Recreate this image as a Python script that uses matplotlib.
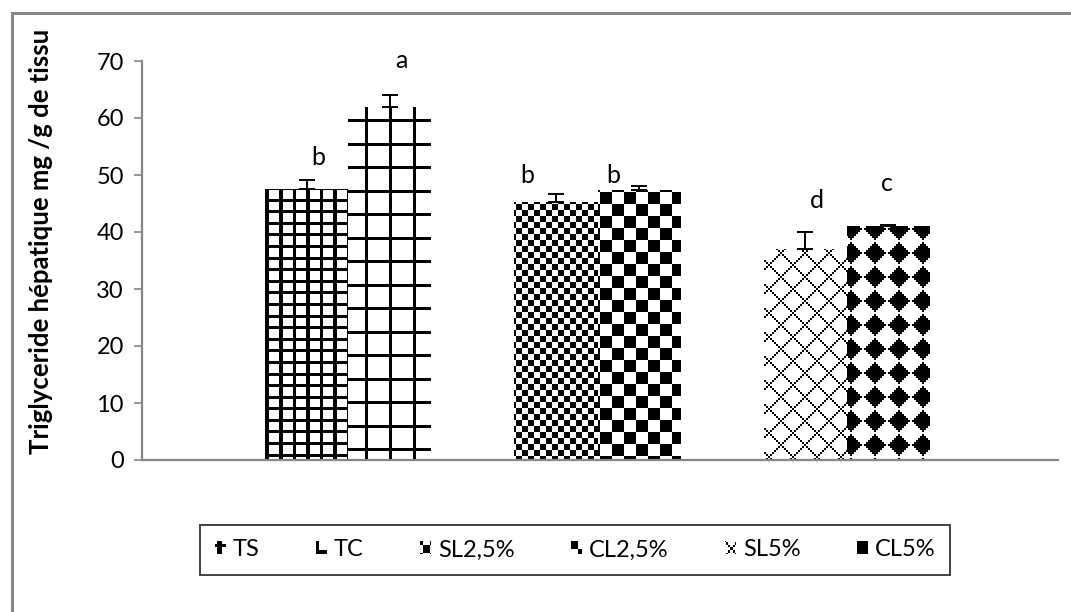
import numpy as np
import matplotlib
matplotlib.use("Agg")
import matplotlib.pyplot as plt
from matplotlib.patches import Rectangle
from matplotlib.legend_handler import HandlerBase
from matplotlib.image import BboxImage
from matplotlib.transforms import Bbox, TransformedBbox
from matplotlib.colors import Normalize

plt.rcParams['font.family'] = ['Lato', 'DejaVu Sans']

# hepatic triglycerides (mg/g of tissue), one bar per diet
groups = ["TS", "TC", "SL2,5%", "CL2,5%", "SL5%", "CL5%"]
values = [47.5, 62.0, 45.2, 47.3, 37.0, 41.0]
errors = [1.6, 2.0, 1.5, 0.7, 3.0, 0.3]
pair_of = [0, 0, 1, 1, 2, 2]
side = [-1, 1, -1, 1, -1, 1]

# significance letters and where they sit
letters = ["b", "a", "b", "b", "d", "c"]
letter_x = [-0.12, 0.216, 0.718, 1.062, 1.88, 2.16]
letter_y = [53.0, 70.0, 49.9, 49.9, 45.5, 48.5]

W_PX, H_PX, DPI = 1071, 612, 100


# fill patterns, evaluated on figure pixel columns X / rows Y (from top)
def pat_ts(X, Y):
    return ((X - 265) % 13.6 < 3.5) | ((Y - 430) % 11.6 < 3)


def pat_tc(X, Y):
    return ((X - 365) % 24.0 < 3) | ((Y - 119) % 23.5 < 3)


def pat_small_check(X, Y):
    return ((X // 6 + Y // 6) % 2) == 0


def pat_big_check(X, Y):
    return ((X // 12 + Y // 12) % 2) == 0


def pat_lattice(X, Y):
    u, v = X // 2, Y // 2
    return ((u + v) % 12 == 0) | ((u - v) % 12 == 0)


def pat_diamonds(X, Y):
    u, v = X // 2 + 1, Y // 2
    du = (u % 12) - 6
    dv = (v % 12) - 6
    return (np.abs(du) + np.abs(dv)) <= 5


patterns = [pat_ts, pat_tc, pat_small_check, pat_big_check, pat_lattice, pat_diamonds]
# where each legend swatch is cut from its pattern
legend_offsets = [(263, 428), (365, 112), (3, 3), (6, 6), (19, 19), (6, 10)]


def texture(fn, c0, c1, r0, r1):
    X, Y = np.meshgrid(np.arange(c0, c1), np.arange(r0, r1))
    return fn(X, Y).astype(float)


class TextureHandler(HandlerBase):
    def __init__(self, tex):
        super().__init__()
        self.tex = tex

    def create_artists(self, legend, orig_handle, xdescent, ydescent,
                       width, height, fontsize, trans):
        bb = TransformedBbox(Bbox.from_bounds(-xdescent, -ydescent, width, height), trans)
        im = BboxImage(bb, cmap='gray_r', norm=Normalize(0, 1), interpolation='nearest')
        im.set_data(self.tex)
        return [im]


fig = plt.figure(figsize=(W_PX / DPI, H_PX / DPI), dpi=DPI)
ax = fig.add_axes([142 / W_PX, 1 - 460 / H_PX, 916 / W_PX, 399 / H_PX])

bar_w = 0.333
xs = [pair_of[i] + side[i] * bar_w / 2 for i in range(len(groups))]

ax.set_xlim(-0.826, 2.846)
ax.set_ylim(0, 70)
ax.set_autoscale_on(False)

bars = ax.bar(xs, values, bar_w, color='white', edgecolor='none', zorder=2)

inv = ax.transData.inverted()
for bar, fn in zip(bars, patterns):
    x0, y0 = bar.get_x(), 0
    x1, y1 = x0 + bar.get_width(), bar.get_height()
    (px0, py0), (px1, py1) = ax.transData.transform([(x0, y0), (x1, y1)])
    c0, c1 = int(round(px0)), int(round(px1))
    r0, r1 = int(round(H_PX - py1)), int(round(H_PX - py0))
    tex = texture(fn, c0, c1, r0, r1)
    (dx0, dy0), (dx1, dy1) = inv.transform([(c0, H_PX - r1), (c1, H_PX - r0)])
    im = ax.imshow(tex, cmap='gray_r', vmin=0, vmax=1, extent=(dx0, dx1, dy0, dy1),
                   origin='upper', interpolation='nearest', aspect='auto', zorder=2.5)
    im.set_clip_path(bar)

ax.errorbar(xs, values, yerr=[np.zeros(len(errors)), errors], fmt='none',
            ecolor='black', elinewidth=1.4, capsize=5.8, capthick=1.4, zorder=3)

for lx, ly, lt in zip(letter_x, letter_y, letters):
    ax.text(lx, ly, lt, ha='center', va='center', fontsize=18, zorder=4)

ax.set_yticks(range(0, 71, 10))
ax.set_xticks([])
ax.tick_params(axis='y', direction='out', length=6, width=1.2, color='#868686',
               labelsize=17, pad=7)
for s in ['top', 'right']:
    ax.spines[s].set_visible(False)
for s in ['left', 'bottom']:
    ax.spines[s].set_color('#868686')
    ax.spines[s].set_linewidth(1.6)

fig.text(41 / W_PX, 1 - 241 / H_PX, "Triglyceride hépatique mg /g de tissu",
         rotation=90, ha='center', va='center', fontsize=18.5, fontweight='bold')

# chart area border
fig.add_artist(Rectangle((12 / W_PX, -0.1), 1.2, 1 - 13 / H_PX + 0.1,
                         transform=fig.transFigure, fill=False,
                         edgecolor='#868686', linewidth=2.2))

handles = [Rectangle((0, 0), 1, 1) for _ in groups]
handler_map = {}
for h, fn, (ox, oy) in zip(handles, patterns, legend_offsets):
    handler_map[h] = TextureHandler(texture(fn, ox, ox + 10, oy, oy + 10))

leg = fig.legend(handles, groups, handler_map=handler_map, loc='center',
                 bbox_to_anchor=(575 / W_PX, 1 - 550 / H_PX), ncol=6,
                 fontsize=17, frameon=True, fancybox=False, shadow=False,
                 handlelength=0.45, handleheight=0.45, handletextpad=0.3,
                 columnspacing=2.4, borderpad=0.6, borderaxespad=0)
leg.get_frame().set_edgecolor('black')
leg.get_frame().set_linewidth(1.3)

fig.savefig("out.png", dpi=DPI)
